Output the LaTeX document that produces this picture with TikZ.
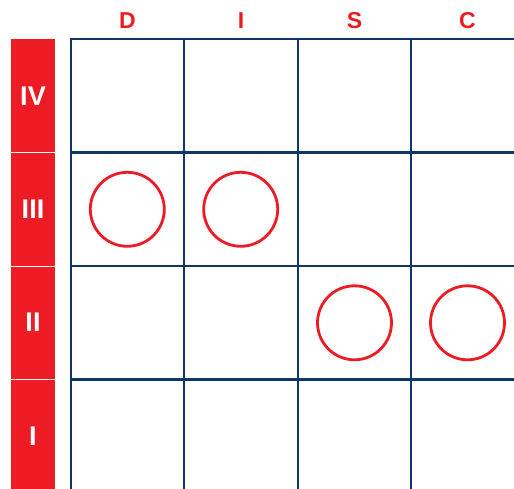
\documentclass[tikz,border=0pt]{standalone}
\usepackage{fontspec}
\setmainfont{Liberation Sans}
\definecolor{myred}{RGB}{237,28,36}
\definecolor{navy}{RGB}{14,55,102}
\begin{document}
\begin{tikzpicture}[x=1pt,y=-1pt,
  gridline/.style={navy,line width=2.8pt},
  collabel/.style={text=myred,font=\bfseries\fontsize{23}{24}\selectfont,anchor=base,inner sep=0pt},
  rowlabel/.style={text=white,font=\bfseries\fontsize{27}{30}\selectfont,anchor=center,inner sep=0pt},
  ring/.style={circle,draw=myred,line width=2.8pt,minimum size=74pt,inner sep=0pt}]
\useasboundingbox (0,0) rectangle (514,489);
% red side bars
\fill[myred] (11,39) rectangle (55,152);
\fill[myred] (11,153) rectangle (55,265.5);
\fill[myred] (11,266.5) rectangle (55,378.5);
\fill[myred] (11,379.5) rectangle (55,489);
\node[rowlabel] (r4) at (33,96) {IV};
\node[rowlabel] (r3) at (33,209) {III};
\node[rowlabel] (r2) at (33,322.5) {II};
\node[rowlabel] (r1) at (33,436) {I};
% column labels
\node[collabel] (cD) at (127.5,29) {D};
\node[collabel] (cI) at (241,29) {I};
\node[collabel] (cS) at (354.5,29) {S};
\node[collabel] (cC) at (467.5,29) {C};
% grid
\foreach \x in {71,184,298,411} \draw[gridline] (\x,37.6) -- (\x,489);
\foreach \y in {39,152.5,266,379.3} \draw[gridline] (69.6,\y) -- (514,\y);
% circles
\node[ring] (o1) at (127.3,209.3) {};
\node[ring] (o2) at (240.7,209.3) {};
\node[ring] (o3) at (354.5,322.8) {};
\node[ring] (o4) at (467.5,322.8) {};
\end{tikzpicture}
\end{document}
